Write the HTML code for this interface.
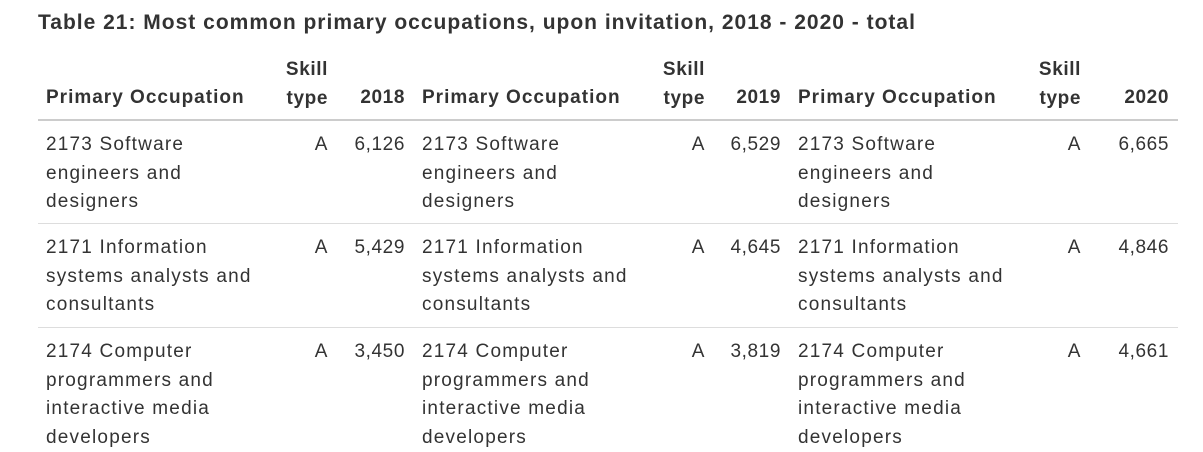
<!DOCTYPE html>
<html><head><meta charset="utf-8"><style>
body{margin:0;width:1203px;height:452px;background:#fff;overflow:hidden;font-family:"Liberation Sans",sans-serif;color:#333;}
.t{position:absolute;white-space:nowrap;font-size:19px;line-height:28.6px;letter-spacing:1.2px;}
.b{font-weight:bold;letter-spacing:1px;}
.r{text-align:right;letter-spacing:0.6px;}
.hl{position:absolute;left:38px;width:1140px;height:1px;background:#ddd;}
</style></head><body>
<div class="t b" style="left:38px;top:9px;font-size:21px;">Table 21: Most common primary occupations, upon invitation, 2018 - 2020 - total</div>
<div>
<div class="t b" style="left:46px;top:84px;">Primary Occupation</div>
<div class="t b r" style="left:228px;width:100px;top:56px;">Skill<br>type</div>
<div class="t b r" style="left:335px;width:70px;top:84px;">2018</div>
<div class="t b" style="left:422px;top:84px;">Primary Occupation</div>
<div class="t b r" style="left:605px;width:100px;top:56px;">Skill<br>type</div>
<div class="t b r" style="left:711px;width:70px;top:84px;">2019</div>
<div class="t b" style="left:798px;top:84px;">Primary Occupation</div>
<div class="t b r" style="left:981px;width:100px;top:56px;">Skill<br>type</div>
<div class="t b r" style="left:1099px;width:70px;top:84px;">2020</div>
<div class="hl" style="top:119px;height:2px;background:#ccc;"></div>

<div class="t" style="left:46px;top:131px;">2173 Software<br>engineers and<br>designers</div>
<div class="t r" style="left:228px;width:100px;top:131px;">A</div>
<div class="t r" style="left:335px;width:70px;top:131px;">6,126</div>
<div class="t" style="left:422px;top:131px;">2173 Software<br>engineers and<br>designers</div>
<div class="t r" style="left:605px;width:100px;top:131px;">A</div>
<div class="t r" style="left:711px;width:70px;top:131px;">6,529</div>
<div class="t" style="left:798px;top:131px;">2173 Software<br>engineers and<br>designers</div>
<div class="t r" style="left:981px;width:100px;top:131px;">A</div>
<div class="t r" style="left:1099px;width:70px;top:131px;">6,665</div>
<div class="hl" style="top:223px;"></div>

<div class="t" style="left:46px;top:234px;">2171 Information<br>systems analysts and<br>consultants</div>
<div class="t r" style="left:228px;width:100px;top:234px;">A</div>
<div class="t r" style="left:335px;width:70px;top:234px;">5,429</div>
<div class="t" style="left:422px;top:234px;">2171 Information<br>systems analysts and<br>consultants</div>
<div class="t r" style="left:605px;width:100px;top:234px;">A</div>
<div class="t r" style="left:711px;width:70px;top:234px;">4,645</div>
<div class="t" style="left:798px;top:234px;">2171 Information<br>systems analysts and<br>consultants</div>
<div class="t r" style="left:981px;width:100px;top:234px;">A</div>
<div class="t r" style="left:1099px;width:70px;top:234px;">4,846</div>
<div class="hl" style="top:327px;"></div>

<div class="t" style="left:46px;top:338px;">2174 Computer<br>programmers and<br>interactive media<br>developers</div>
<div class="t r" style="left:228px;width:100px;top:338px;">A</div>
<div class="t r" style="left:335px;width:70px;top:338px;">3,450</div>
<div class="t" style="left:422px;top:338px;">2174 Computer<br>programmers and<br>interactive media<br>developers</div>
<div class="t r" style="left:605px;width:100px;top:338px;">A</div>
<div class="t r" style="left:711px;width:70px;top:338px;">3,819</div>
<div class="t" style="left:798px;top:338px;">2174 Computer<br>programmers and<br>interactive media<br>developers</div>
<div class="t r" style="left:981px;width:100px;top:338px;">A</div>
<div class="t r" style="left:1099px;width:70px;top:338px;">4,661</div>
</div>
</body></html>
